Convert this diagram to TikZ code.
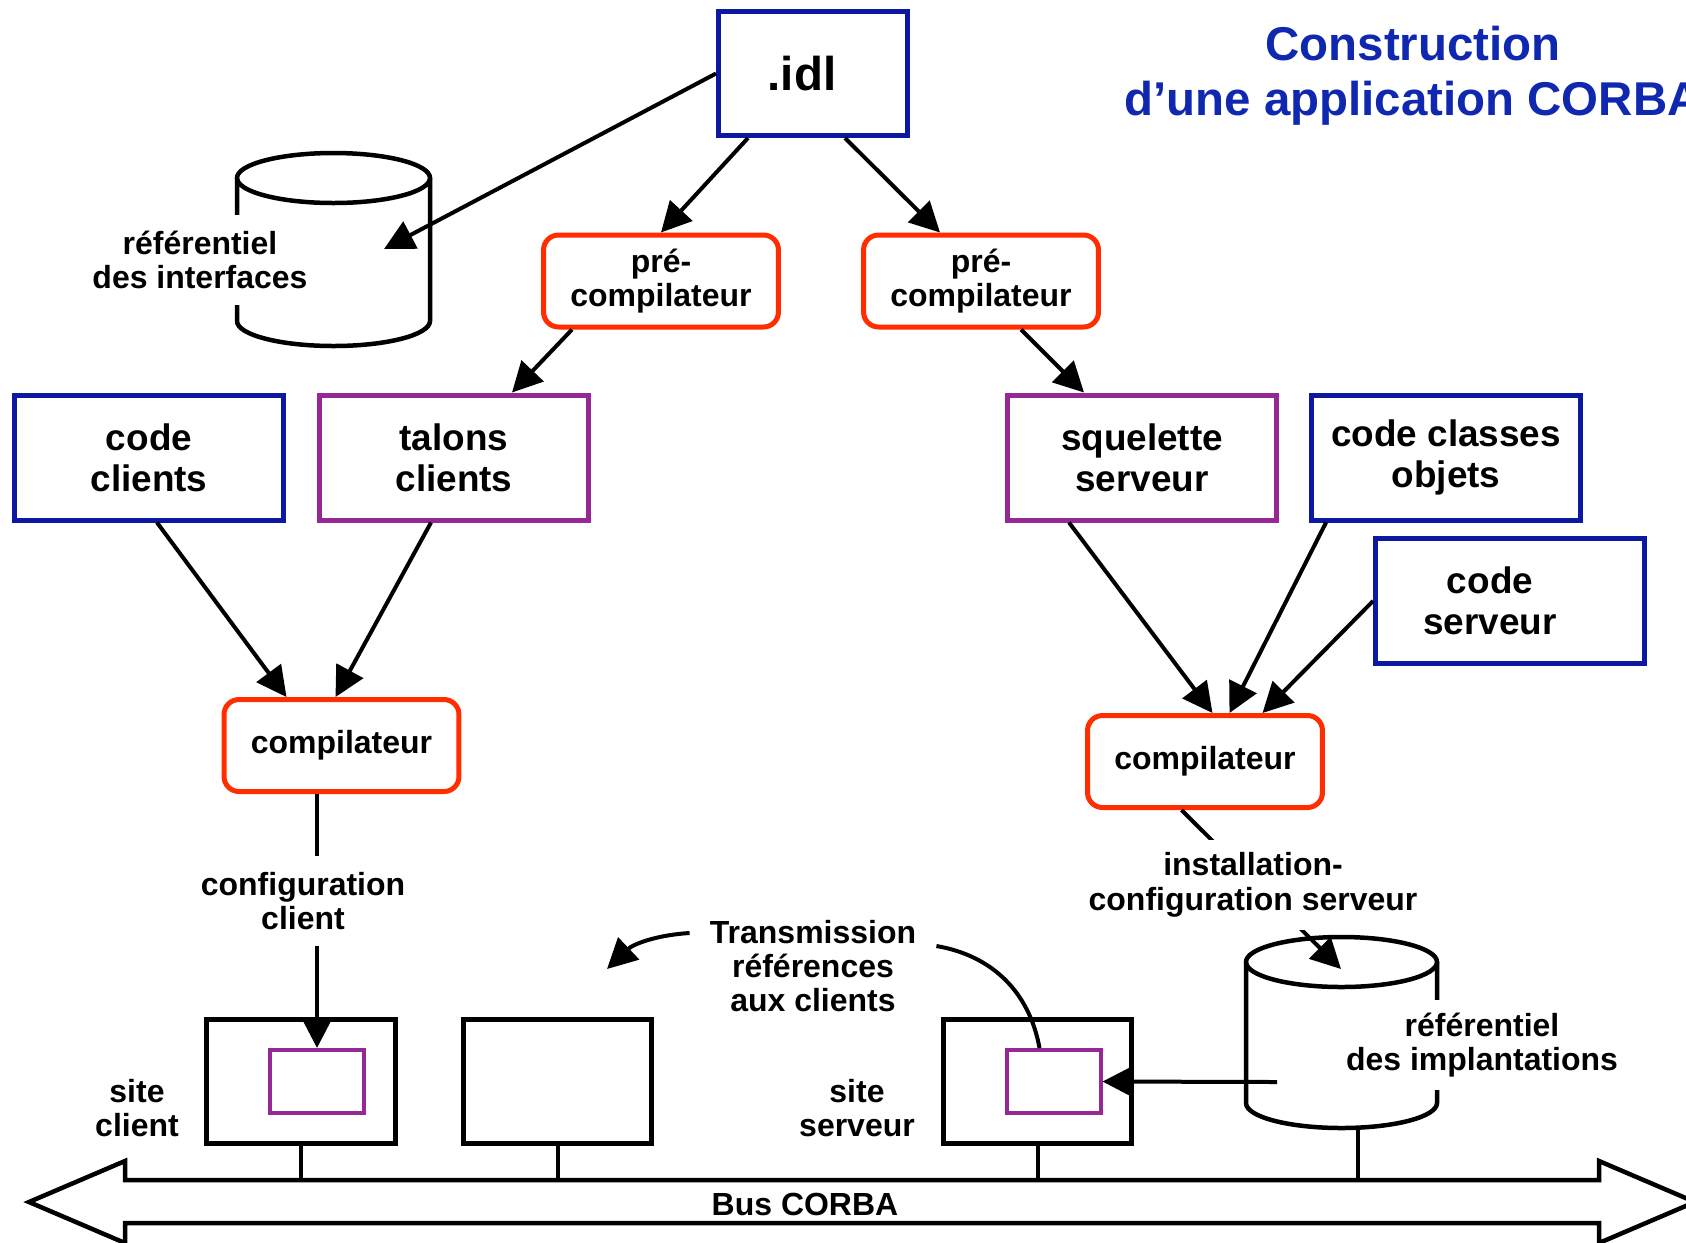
\documentclass[tikz,border=0pt]{standalone}
\usepackage{fontspec}
\setmainfont{Liberation Sans}
\usetikzlibrary{arrows.meta}

\definecolor{corbablue}{RGB}{10,25,160}
\definecolor{titleblue}{RGB}{15,40,175}
\definecolor{corbared}{RGB}{255,45,0}
\definecolor{corbapurple}{RGB}{150,40,150}

\newcommand\lblfont{\fontsize{18.2pt}{19.6pt}\selectfont\bfseries}
\newcommand\boxfont{\fontsize{21pt}{23.3pt}\selectfont\bfseries}

\tikzset{
  codebox/.style={draw=corbablue, line width=0.1cm, minimum width=5.38cm, minimum height=2.5cm, align=center, font=\boxfont},
  stubbox/.style={codebox, draw=corbapurple},
  toolbox/.style={draw=corbared, line width=0.1cm, rounded corners=0.3cm, minimum width=4.7cm, minimum height=1.84cm, align=center, font=\lblfont},
  sitebox/.style={draw, line width=0.1cm, minimum width=3.78cm, minimum height=2.48cm},
  objbox/.style={draw=corbapurple, line width=0.08cm, minimum width=1.88cm, minimum height=1.26cm},
  lbl/.style={align=center, font=\lblfont, inner sep=0pt},
  cover/.style={lbl, fill=white, minimum height=1.8cm, inner xsep=0.1cm},
  arr/.style={line width=0.08cm, -{Triangle[length=0.6cm,width=0.6cm]}},
  link/.style={line width=0.08cm},
}

\begin{document}
\begin{tikzpicture}[x=0.02cm, y=-0.02cm]
  \useasboundingbox (0,0) rectangle (1686,1242);

  \node[lbl, font=\fontsize{27pt}{31.3pt}\selectfont\bfseries, text=titleblue] (title) at (1413,76) {Construction\\d’une application CORBA};

  % sources et outils
  \node[codebox, minimum width=3.78cm, minimum height=2.48cm, font=\fontsize{27pt}{30pt}\selectfont\bfseries] (idl) at (813,73.5) {.idl\hspace*{0.44cm}};
  \node[toolbox] (pre1) at (661,281) {pré-\\compilateur};
  \node[toolbox] (pre2) at (981,281) {pré-\\compilateur};
  \node[codebox] (clcode) at (149,457.5) {code\\clients};
  \node[stubbox] (talons) at (454,457.5) {talons\\clients};
  \node[stubbox] (squel) at (1142,457.5) {squelette\\serveur};
  \node[codebox] (classes) at (1446,457.5) {code classes\\objets};
  \node[codebox] (srvcode) at (1510,601) {code\hspace*{0.8cm}\\serveur\hspace*{0.8cm}};
  \node[toolbox] (clcomp) at (341.5,745.5) {compilateur};
  \node[toolbox] (srvcomp) at (1205,761.5) {compilateur};

  % sites
  \node[sitebox] (clsite) at (301,1081.5) {};
  \node[sitebox] (othersite) at (557.5,1081.5) {};
  \node[sitebox] (srvsite) at (1037.5,1081.5) {};
  \node[objbox] (clobj) at (317,1081.5) {};
  \node[objbox] (srvobj) at (1053.5,1081.5) {};

  % referentiels
  \begin{scope}[line width=0.09cm]
    \draw (333.5,178) ellipse [x radius=96.5, y radius=25];
    \draw (237,178) -- (237,321) arc[start angle=180, end angle=0, x radius=96.5, y radius=25] -- (430,178);
    \draw (1341.5,962) ellipse [x radius=95.5, y radius=25];
    \draw (1246,962) -- (1246,1103) arc[start angle=180, end angle=0, x radius=95.5, y radius=25] -- (1437,962);
  \end{scope}
  \coordinate (ifin) at (384,249);
  \coordinate (implin) at (1341,969);
  \coordinate (implout) at (1277,1082);
  \coordinate (implfoot) at (1358,1128);

  % bus
  \draw[line width=0.09cm, line join=miter] (29,1202) -- (125,1161) -- (125,1180) -- (1599,1180) -- (1599,1161) -- (1695,1202) -- (1599,1243) -- (1599,1223) -- (125,1223) -- (125,1243) -- cycle;
  \coordinate (bustop) at (0,1180);
  \node[lbl] (bus) at (805,1204) {Bus CORBA};
  \draw[link] (clsite.south) -- (clsite.south |- bustop);
  \draw[link] (othersite.south) -- (othersite.south |- bustop);
  \draw[link] (srvsite.south) -- (srvsite.south |- bustop);
  \draw[link] (implfoot) -- (implfoot |- bustop);

  % fleches
  \draw[arr] (idl.west) -- (ifin);
  \draw[arr] ([xshift=-1.3cm]idl.south) -- (pre1.north);
  \draw[arr] ([xshift=0.64cm]idl.south) -- ([xshift=-0.82cm]pre2.north);
  \draw[arr] ([xshift=-1.78cm]pre1.south) -- ([xshift=1.16cm]talons.north);
  \draw[arr] ([xshift=0.8cm]pre2.south) -- ([xshift=-1.16cm]squel.north);
  \draw[arr] ([xshift=0.16cm]clcode.south) -- ([xshift=-1.1cm]clcomp.north);
  \draw[arr] ([xshift=-0.46cm]talons.south) -- ([xshift=-0.12cm]clcomp.north);
  \draw[arr] ([xshift=-1.46cm]squel.south) -- ([xshift=0.15cm]srvcomp.north);
  \draw[arr] ([xshift=0.34cm]classes.south west) -- ([xshift=0.49cm]srvcomp.north);
  \draw[arr] (srvcode.west) -- ([xshift=1.15cm]srvcomp.north);
  \draw[arr] (clobj.north |- clcomp.south) -- (clobj.north);
  \draw[arr] ([xshift=-0.47cm]srvcomp.south) -- (implin);
  \draw[arr] (implout) -- (srvobj.east);

  % textes
  \node[cover] (ifrep) at (200,260) {référentiel\\des interfaces};
  \node[cover] (implrep) at (1482,1045) {référentiel\\des implantations};
  \node[cover] (clcfg) at (303,901) {configuration\\client};
  \node[cover] (srvcfg) at (1253,885) {installation-\\configuration serveur};
  \node[lbl] (clsitelbl) at (137,1108) {site\\client};
  \node[lbl] (srvsitelbl) at (857,1108) {site\\serveur};

  \node[lbl, inner xsep=0.4cm] (trans) at (813,966) {Transmission\\références\\aux clients};
  \coordinate (transtip) at (607,969);
  \draw[arr] ([yshift=0.66cm]trans.west) to[bend right=20] (transtip);
  \draw[link] ([yshift=0.4cm]trans.east) to[bend left=35] ([xshift=-0.28cm]srvobj.north);
\end{tikzpicture}
\end{document}
